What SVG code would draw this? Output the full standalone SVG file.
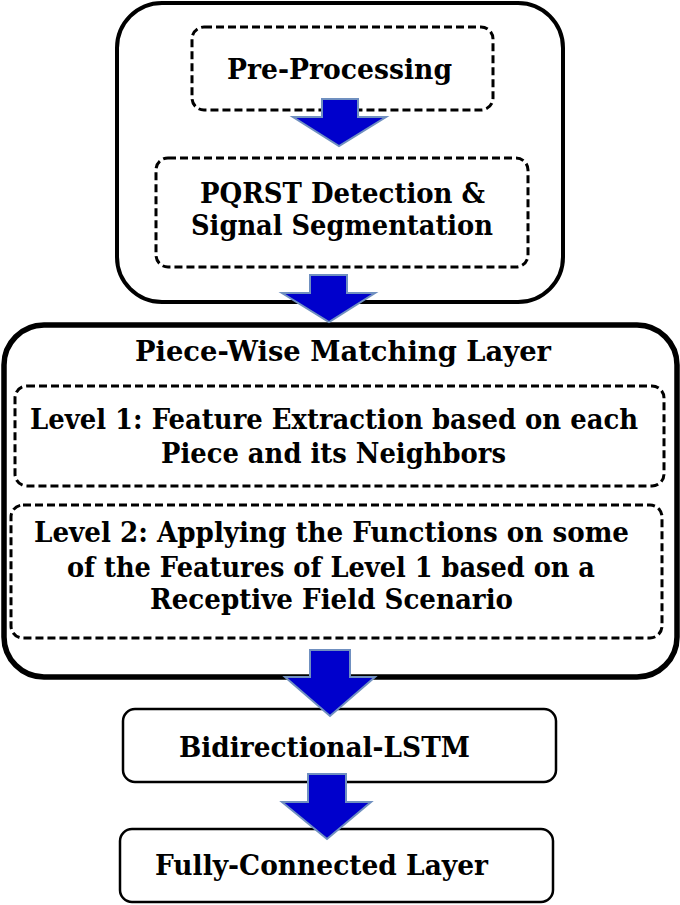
<svg xmlns="http://www.w3.org/2000/svg" width="680" height="905" viewBox="0 0 680 905">
<style>
.solid{fill:#fff;stroke:#000}
.dash{fill:none;stroke:#000;stroke-width:3;stroke-dasharray:8 4}
.t{font-family:"DejaVu Serif","Liberation Serif",serif;font-weight:bold;font-size:27px;fill:#000;text-anchor:middle}
.arr{fill:#0000CC;stroke:#7090C0;stroke-width:2;stroke-linejoin:miter}
</style>
<rect width="680" height="905" fill="#fff"/>
<g id="group-preprocessing">
<rect class="solid" x="117" y="3" width="446" height="299" rx="45" stroke-width="4"/>
</g>
<g id="node-preprocessing">
<rect class="dash" x="192" y="27" width="301" height="83" rx="12"/>
<text class="t" x="339.5" y="79" textLength="225" lengthAdjust="spacingAndGlyphs">Pre-Processing</text>
</g>
<g id="node-pqrst">
<rect class="dash" x="156" y="158" width="372" height="109" rx="12"/>
<text class="t" x="342.5" y="203" textLength="285" lengthAdjust="spacingAndGlyphs">PQRST Detection &amp;</text>
<text class="t" x="342" y="235" textLength="302" lengthAdjust="spacingAndGlyphs">Signal Segmentation</text>
</g>
<g id="group-pwm">
<rect class="solid" x="4" y="325" width="673" height="352" rx="40" stroke-width="5.5"/>
<text class="t" x="343" y="361" textLength="416" lengthAdjust="spacingAndGlyphs">Piece-Wise Matching Layer</text>
</g>
<g id="node-level1">
<rect class="dash" x="15" y="386" width="649" height="100" rx="12"/>
<text class="t" x="334" y="429" textLength="608" lengthAdjust="spacingAndGlyphs">Level 1: Feature Extraction based on each</text>
<text class="t" x="333.5" y="463" textLength="345" lengthAdjust="spacingAndGlyphs">Piece and its Neighbors</text>
</g>
<g id="node-level2">
<rect class="dash" x="11" y="505" width="651" height="133" rx="12"/>
<text class="t" x="331.5" y="542" textLength="595" lengthAdjust="spacingAndGlyphs">Level 2: Applying the Functions on some</text>
<text class="t" x="331" y="577" textLength="528" lengthAdjust="spacingAndGlyphs">of the Features of Level 1 based on a</text>
<text class="t" x="331.5" y="609" textLength="363" lengthAdjust="spacingAndGlyphs">Receptive Field Scenario</text>
</g>
<g id="node-bilstm">
<rect class="solid" x="123" y="709" width="433" height="73" rx="12" stroke-width="2.5"/>
<text class="t" x="324.5" y="757" textLength="291" lengthAdjust="spacingAndGlyphs">Bidirectional-LSTM</text>
</g>
<g id="node-fc">
<rect class="solid" x="120" y="829" width="433" height="73" rx="12" stroke-width="2.5"/>
<text class="t" x="321.5" y="875" textLength="333" lengthAdjust="spacingAndGlyphs">Fully-Connected Layer</text>
</g>
<g id="connectors">
<polygon class="arr" points="322,99 358,99 358,117 386,117 339,146 293,117 322,117"/>
<polygon class="arr" points="310,275 347,275 347,293 375,293 329,322 282,293 310,293"/>
<polygon class="arr" points="310,650 350,650 350,677 375,677 330,716 285,677 310,677"/>
<polygon class="arr" points="308,774 346,774 346,802 371,802 327,839 282,802 308,802"/>
</g>
</svg>
